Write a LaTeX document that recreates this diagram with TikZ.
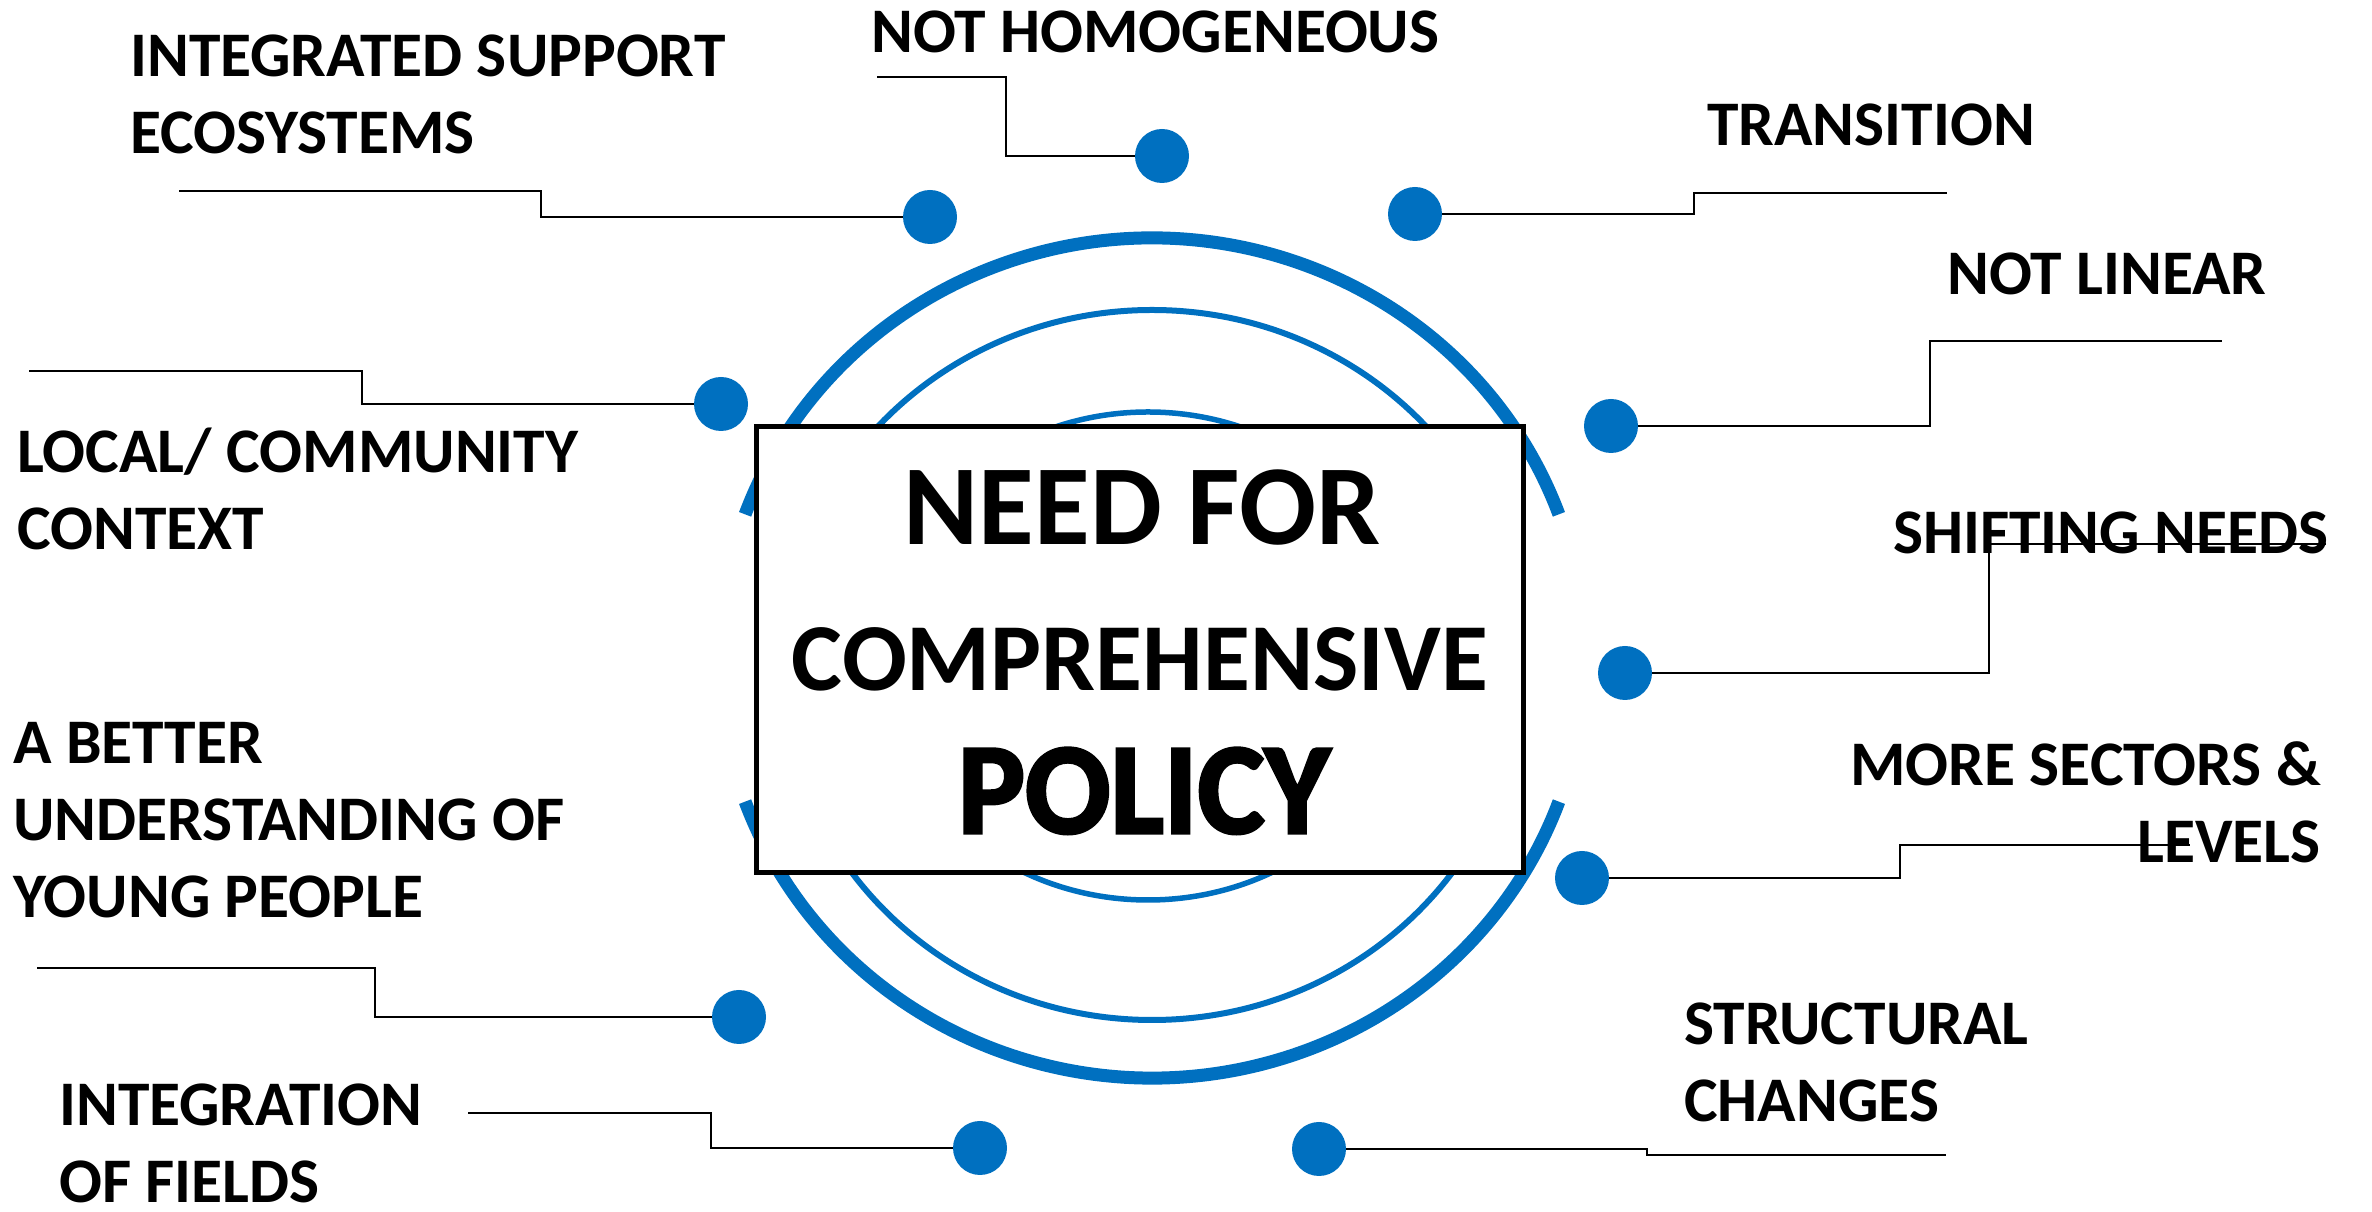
\documentclass[tikz,border=0pt]{standalone}
\usepackage{fontspec}
\setmainfont{Carlito}
\newfontfamily\policyfont[FakeBold=2.5]{Carlito Bold}
\usepackage{graphicx}
\definecolor{myblue}{RGB}{0,112,192}
\tikzset{
  bluedot/.style={circle, fill=myblue, minimum size=54pt, inner sep=0pt},
  conn/.style={draw=black, line width=2.5pt},
  lbl/.style={font=\fontsize{63.5}{77}\selectfont\bfseries, inner sep=0pt, align=left},
  lblr/.style={font=\fontsize{63.5}{77}\selectfont\bfseries, inner sep=0pt, align=right},
  ring/.style={draw=myblue},
}
\begin{document}
\begin{tikzpicture}[x=1pt,y=1pt]
\useasboundingbox (0,0) rectangle (2372,1212);
\fill[white] (0,0) rectangle (2372,1212);
% rings
\coordinate (oc) at (1152,554);
\coordinate (mc) at (1152,547);
\coordinate (ic) at (1148,556);
\draw[ring, line width=13pt] ([shift={(20:433 and 420)}]oc) arc[start angle=20, end angle=160, x radius=433, y radius=420];
\draw[ring, line width=13pt] ([shift={(200:433 and 420)}]oc) arc[start angle=200, end angle=340, x radius=433, y radius=420];
\draw[ring, line width=6pt] (mc) ellipse[x radius=370, y radius=355];
\draw[ring, line width=5.5pt] (ic) ellipse[x radius=268, y radius=244];
% central box
\node[draw=black, line width=5pt, fill=white, minimum width=767pt, minimum height=446pt, inner sep=0pt] (box) at (1139.5,562.5) {};
\node[anchor=base, inner sep=0pt, font=\fontsize{114}{114}\selectfont\bfseries] (t1) at (1142,667) {NEED FOR};
\node[anchor=base, inner sep=0pt, font=\fontsize{96}{96}\selectfont\bfseries] (t2) at (1140,521) {COMPREHENSIVE};
\node[anchor=base, inner sep=0pt] (t3) at (1144,379) {\resizebox{372pt}{85pt}{\policyfont POLICY}};
% dots
\node[bluedot] (d1) at (930,995) {};
\node[bluedot] (d2) at (1162,1056) {};
\node[bluedot] (d3) at (1415,998) {};
\node[bluedot] (d4) at (1611,786) {};
\node[bluedot] (d5) at (1625,539) {};
\node[bluedot] (d6) at (1582,334) {};
\node[bluedot] (d7) at (1319,63) {};
\node[bluedot] (d8) at (980,64) {};
\node[bluedot] (d9) at (739,195) {};
\node[bluedot] (d10) at (721,808) {};
% free ends
\coordinate (e1) at (179,1021);
\coordinate (e2) at (877,1135);
\coordinate (e3) at (1947,1019);
\coordinate (e4) at (2222,871);
\coordinate (e5) at (2326,668);
\coordinate (e6) at (2190,367);
\coordinate (e7) at (1946,57);
\coordinate (e8) at (468,99);
\coordinate (e9) at (37,244);
\coordinate (e10) at (29,841);
% connectors
\draw[conn] (d1.west) -- (541,995) -- (541,1021) -- (e1);
\draw[conn] (d2.west) -- (1006,1056) -- (1006,1135) -- (e2);
\draw[conn] (d3.east) -- (1694,998) -- (1694,1019) -- (e3);
\draw[conn] (d4.east) -- (1930,786) -- (1930,871) -- (e4);
\draw[conn] (d5.east) -- (1989,539) -- (1989,668) -- (e5);
\draw[conn] (d6.east) -- (1900,334) -- (1900,367) -- (e6);
\draw[conn] (d7.east) -- (1647,63) -- (1647,57) -- (e7);
\draw[conn] (d8.west) -- (711,64) -- (711,99) -- (e8);
\draw[conn] (d9.west) -- (375,195) -- (375,244) -- (e9);
\draw[conn] (d10.west) -- (362,808) -- (362,841) -- (e10);
% labels (base anchor = baseline of last line)
\node[lbl, anchor=base west] (l1) at (130,1058) {INTEGRATED SUPPORT\\ECOSYSTEMS};
\node[lbl, anchor=base west] (l2) at (871,1159) {NOT HOMOGENEOUS};
\node[lbl, anchor=base west] (l3) at (1707,1066) {TRANSITION};
\node[lbl, anchor=base west] (l4) at (1947,917) {NOT LINEAR};
\node[lbl, anchor=base west] (l5) at (1893,658) {SHIFTING NEEDS};
\node[lblr, anchor=base east] (l6) at (2321,349) {MORE SECTORS \&\\LEVELS};
\node[lbl, anchor=base west] (l7) at (1684,90) {STRUCTURAL\\CHANGES};
\node[lbl, anchor=base west] (l8) at (59,9) {INTEGRATION\\OF FIELDS};
\node[lbl, anchor=base west] (l9) at (13,294) {A BETTER\\UNDERSTANDING OF\\YOUNG PEOPLE};
\node[lbl, anchor=base west] (l10) at (17,662) {LOCAL/ COMMUNITY\\CONTEXT};
\end{tikzpicture}
\end{document}
